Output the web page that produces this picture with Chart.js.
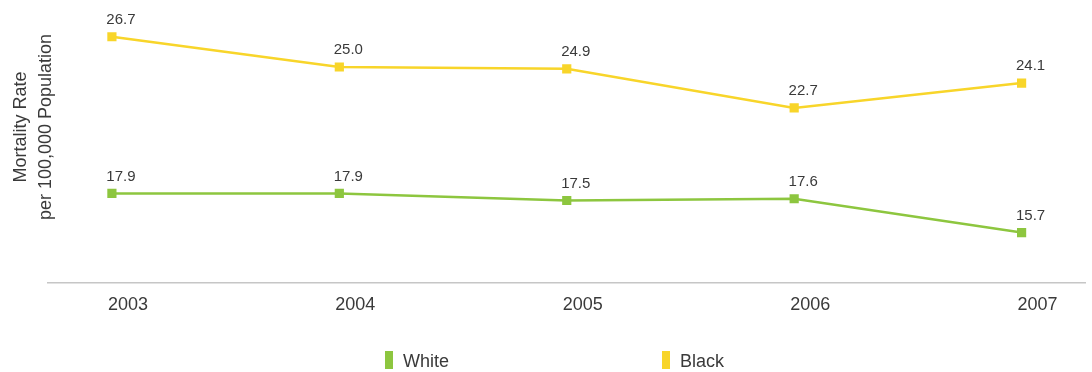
<!DOCTYPE html>
<html>
<head>
<meta charset="utf-8">
<script src="https://cdn.jsdelivr.net/npm/chart.js@4/dist/chart.umd.min.js"></script>
<style>
  html, body { margin: 0; padding: 0; background: #fff; }
  #wrap { position: relative; width: 1092px; height: 372px; }
  #legend { position: absolute; top: 351px; left: 0; width: 1092px; height: 18px;
            font: 18px 'Liberation Sans', Arial, sans-serif; color: #3a3a3a; }
  .item { position: absolute; top: 0; height: 18px; line-height: 20px; white-space: nowrap; }
  .box { position: absolute; left: 0; top: 0; width: 8px; height: 18px; }
  .item span { position: absolute; left: 18px; top: 0; }
</style>
</head>
<body>
<div id="wrap"><canvas id="chart"></canvas><div id="legend"></div></div>
<script>
const years = [2003, 2004, 2005, 2006, 2007];
const whiteRates = [17.9, 17.9, 17.5, 17.6, 15.7];
const blackRates = [26.7, 25.0, 24.9, 22.7, 24.1];
const axisTitle = ['Mortality Rate', 'per 100,000 Population'];

const GREEN = '#8dc63f';
const YELLOW = '#f8d52a';
const TEXT = '#3a3a3a';
const FONT = "'Liberation Sans', Arial, sans-serif";

// value labels above each point
const pointLabels = {
  id: 'pointLabels',
  afterDatasetsDraw(chart) {
    const ctx = chart.ctx;
    ctx.save();
    ctx.font = '15px ' + FONT;
    ctx.fillStyle = TEXT;
    ctx.textAlign = 'center';
    ctx.textBaseline = 'middle';
    chart.data.datasets.forEach((ds, i) => {
      chart.getDatasetMeta(i).data.forEach((pt, j) => {
        ctx.fillText(ds.data[j].y.toFixed(1), pt.x + 9, pt.y - 17);
      });
    });
    ctx.restore();
  }
};

// two-line rotated y title, placed like the original
const yTitle = {
  id: 'yTitle',
  afterDraw(chart) {
    const ctx = chart.ctx;
    ctx.save();
    ctx.font = '18px ' + FONT;
    ctx.fillStyle = TEXT;
    ctx.textAlign = 'center';
    ctx.textBaseline = 'middle';
    ctx.translate(0, 127);
    ctx.rotate(-Math.PI / 2);
    ctx.fillText(axisTitle[0], 0, 21);
    ctx.fillText(axisTitle[1], 0, 46);
    ctx.restore();
  }
};

const toPoints = vals => vals.map((v, i) => ({ x: years[i], y: v }));

const chart = new Chart(document.getElementById('chart'), {
  type: 'line',
  data: {
    datasets: [
      {
        label: 'White',
        data: toPoints(whiteRates),
        borderColor: GREEN,
        backgroundColor: GREEN,
        borderWidth: 2.5,
        tension: 0,
        pointStyle: 'rect',
        pointRadius: 6.5,
        pointHoverRadius: 6.5,
        pointBorderWidth: 0
      },
      {
        label: 'Black',
        data: toPoints(blackRates),
        borderColor: YELLOW,
        backgroundColor: YELLOW,
        borderWidth: 2.5,
        tension: 0,
        pointStyle: 'rect',
        pointRadius: 6.5,
        pointHoverRadius: 6.5,
        pointBorderWidth: 0
      }
    ]
  },
  options: {
    responsive: true,
    maintainAspectRatio: false,
    animation: false,
    layout: { padding: { left: 48, right: 0, top: 6, bottom: 44 } },
    scales: {
      x: {
        type: 'linear',
        min: 2002.719,
        max: 2007.281,
        afterBuildTicks: scale => { scale.ticks = years.map(v => ({ value: v })); },
        grid: { display: false, drawTicks: false },
        border: { display: true, color: '#c6c6c6', width: 1.5 },
        ticks: {
          autoSkip: false,
          maxRotation: 0,
          padding: 12,
          labelOffset: 16,
          color: TEXT,
          font: { family: FONT, size: 18 },
          callback: v => String(v)
        }
      },
      y: {
        display: false,
        min: 12.9,
        max: 28.4
      }
    },
    plugins: {
      legend: { display: false },
      tooltip: { enabled: false }
    }
  },
  plugins: [pointLabels, yTitle]
});

// legend spaced wide apart like the original
const legendX = [385, 662];
const legendEl = document.getElementById('legend');
chart.data.datasets.forEach((ds, i) => {
  const item = document.createElement('div');
  item.className = 'item';
  item.style.left = legendX[i] + 'px';
  item.innerHTML = '<div class="box" style="background:' + ds.borderColor + '"></div><span>' + ds.label + '</span>';
  legendEl.appendChild(item);
});
</script>
</body>
</html>
